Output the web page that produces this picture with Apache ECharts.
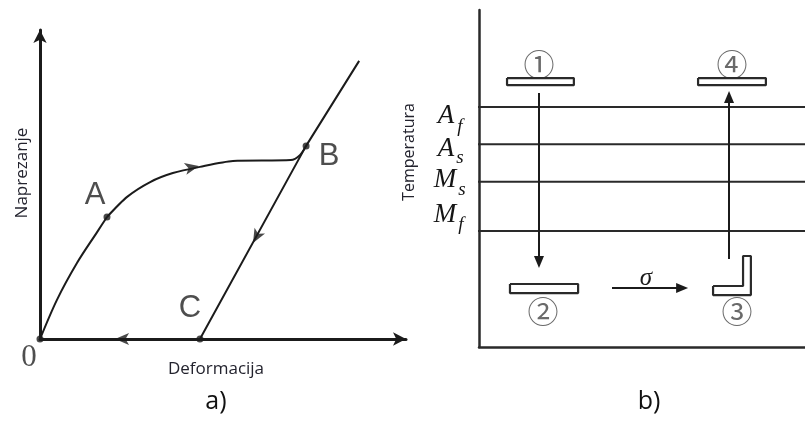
<!DOCTYPE html>
<html>
<head>
<meta charset="utf-8">
<script src="https://cdn.jsdelivr.net/npm/echarts@6/dist/echarts.min.js"></script>
<style>html,body{margin:0;padding:0;background:#fff}#c{width:805px;height:421px}</style>
</head>
<body>
<div id="c"></div>
<script>
// ---------- Panel a) : stress (Naprezanje) vs strain (Deformacija), arbitrary units 0..10 ----------
const loadOA = [[0,0],[0.46,1.26],[1.01,2.46],[1.56,3.46],[1.83,3.95]];
const loadAB = [[1.83,3.95],[2.38,4.60],[3.01,5.08],[3.63,5.37],[4.37,5.57],[5.27,5.76],[6.85,5.79],[7.10,5.95],[7.27,6.25]];
const elasticLine = [[4.37,0],[7.27,6.25],[8.72,9.00]];
const pointNames = ['0','A','B','C'];
const pointValues = [[0,0],[1.83,3.95],[7.27,6.25],[4.37,0]];
const flowArrows = [[4.34,5.60],[5.82,3.11],[2.05,0]];
const flowArrowAngles = [-78,151,90];

// ---------- Panel b) : temperature levels and specimen states ----------
const tempNames = ['A','A','M','M'];
const tempSubs = ['f','s','s','f'];
const tempLevels = [7.12,6.02,4.90,3.44];
const stateNames = ['\u2460','\u2461','\u2462','\u2463'];
const shape1 = [[0.86,7.98],[2.91,7.98],[2.91,7.77],[0.86,7.77],[0.86,7.98]];
const shape4 = [[6.72,7.98],[8.80,7.98],[8.80,7.77],[6.72,7.77],[6.72,7.98]];
const shape2 = [[0.95,1.87],[3.04,1.87],[3.04,1.60],[0.95,1.60],[0.95,1.87]];
const shape3 = [[7.18,1.81],[8.10,1.81],[8.10,2.70],[8.34,2.70],[8.34,1.54],[7.18,1.54],[7.18,1.81]];
const coolArrow = [[1.84,7.54],[1.84,2.52]];
const heatArrow = [[7.67,2.61],[7.67,7.42]];
const stressArrow = [[4.08,1.75],[6.23,1.75]];

const INK = '#1b1b1b';
const chart = echarts.init(document.getElementById('c'), null, {renderer:'canvas'});

function polySeries(data){
  return {type:'line', xAxisIndex:1, yAxisIndex:1, data:data, symbol:'none', smooth:false,
    lineStyle:{color:'#2a2a2a', width:2.2}, silent:true, z:5};
}

const labelOffsets = [[-11,19],[-12,-21],[23,11],[-10,-31]];

const series = [
  {type:'line', data:loadOA, smooth:0.3, symbol:'none', lineStyle:{color:INK,width:2}, silent:true},
  {type:'line', data:loadAB, smooth:0.25, symbol:'none', lineStyle:{color:INK,width:2}, silent:true},
  {type:'line', data:elasticLine, smooth:false, symbol:'none', lineStyle:{color:INK,width:2}, silent:true},
  {type:'scatter', symbolSize:7, itemStyle:{color:INK}, z:6, silent:true,
    data:pointValues.map((v,i)=>({value:v, name:pointNames[i],
      label:{show:true, position:'inside', formatter:pointNames[i], offset:labelOffsets[i], color:'#222',
        fontSize:31, fontFamily: i===0 ? 'Liberation Serif' : 'Liberation Sans'}})),
    label:{show:true}
  },
  {type:'scatter', data:flowArrows.map((v,i)=>({value:v, symbolRotate:flowArrowAngles[i]})),
    symbol:'arrow', symbolSize:[9,14], itemStyle:{color:INK}, z:7, silent:true},
  // panel b
  ...tempLevels.map(t=>({type:'line', xAxisIndex:1, yAxisIndex:1, data:[[-0.18,t],[10,t]],
    symbol:'none', clip:false, lineStyle:{color:'#2a2a2a', width:2}, silent:true})),
  polySeries(shape1), polySeries(shape2), polySeries(shape3), polySeries(shape4),
  {type:'line', xAxisIndex:1, yAxisIndex:1, data:[], silent:true,
    markLine:{silent:true, animation:false, symbol:['none','triangle'], symbolSize:[10,12],
      lineStyle:{color:INK, width:2, type:'solid'}, label:{show:false}, emphasis:{disabled:true},
      data:[coolArrow, heatArrow, stressArrow].map(a=>[{coord:a[0]},{coord:a[1]}])}}
];

const axisBase = {type:'value', min:0, max:10, axisLabel:{show:false}, axisTick:{show:false}, splitLine:{show:false}};

const option = {
  animation:false,
  backgroundColor:'#ffffff',
  grid:[
    {left:40, top:30, width:366, height:309},
    {left:479, top:10, width:326, height:337}
  ],
  xAxis:[
    Object.assign({}, axisBase, {gridIndex:0, axisLine:{show:true, symbol:['none','arrow'], symbolSize:[10,13], lineStyle:{color:INK, width:3}}}),
    Object.assign({}, axisBase, {gridIndex:1, axisLine:{show:true, lineStyle:{color:'#2a2a2a', width:2.5}}})
  ],
  yAxis:[
    Object.assign({}, axisBase, {gridIndex:0, axisLine:{show:true, symbol:['none','arrow'], symbolSize:[10,13], lineStyle:{color:INK, width:3}}}),
    Object.assign({}, axisBase, {gridIndex:1, axisLine:{show:true, lineStyle:{color:'#2a2a2a', width:2.5}}})
  ],
  series:series,
  graphic:[
    {type:'text', x:22, y:173, rotation:Math.PI/2, style:{text:'Naprezanje', fontFamily:'Open Sans', fontSize:17, fill:'#23232e', textAlign:'center', textVerticalAlign:'middle'}},
    {type:'text', x:216, y:369, style:{text:'Deformacija', fontFamily:'Open Sans', fontSize:17, fill:'#23232e', textAlign:'center', textVerticalAlign:'middle'}},
    {type:'text', x:216, y:402, style:{text:'a)', fontFamily:'Open Sans', fontSize:25, fill:'#111', textAlign:'center', textVerticalAlign:'middle'}},
    {type:'text', x:649, y:402, style:{text:'b)', fontFamily:'Open Sans', fontSize:25, fill:'#111', textAlign:'center', textVerticalAlign:'middle'}},
    {type:'text', x:409, y:152, rotation:Math.PI/2, style:{text:'Temperatura', fontFamily:'Open Sans', fontSize:16, fill:'#23232e', textAlign:'center', textVerticalAlign:'middle'}},
    // temperature level names
    ...tempNames.map((n,i)=>({type:'text', x:[446,446,445,445][i], y:[116,149,180,215][i], style:{text:n, fontFamily:'Liberation Serif', fontStyle:'italic', fontSize:27, fill:'#151515', textAlign:'center', textVerticalAlign:'middle'}})),
    ...tempSubs.map((n,i)=>({type:'text', x:[460,460,462,461][i], y:[127,158,190,225][i], style:{text:n, fontFamily:'Liberation Serif', fontStyle:'italic', fontSize:19, fill:'#151515', textAlign:'center', textVerticalAlign:'middle'}})),
    // state numbers
    ...stateNames.map((n,i)=>({type:'text', x:[539,543,737,732][i], y:[64,311,311,64][i], style:{text:n, fontFamily:'Noto Sans CJK SC', fontSize:31, fill:'#6a6a6a', textAlign:'center', textVerticalAlign:'middle'}})),
    {type:'text', x:646, y:278, style:{text:'\u03c3', fontFamily:'Liberation Serif', fontStyle:'italic', fontSize:25, fill:'#1b1b1b', textAlign:'center', textVerticalAlign:'middle'}}
  ]
};
chart.setOption(option);
</script>
</body>
</html>
